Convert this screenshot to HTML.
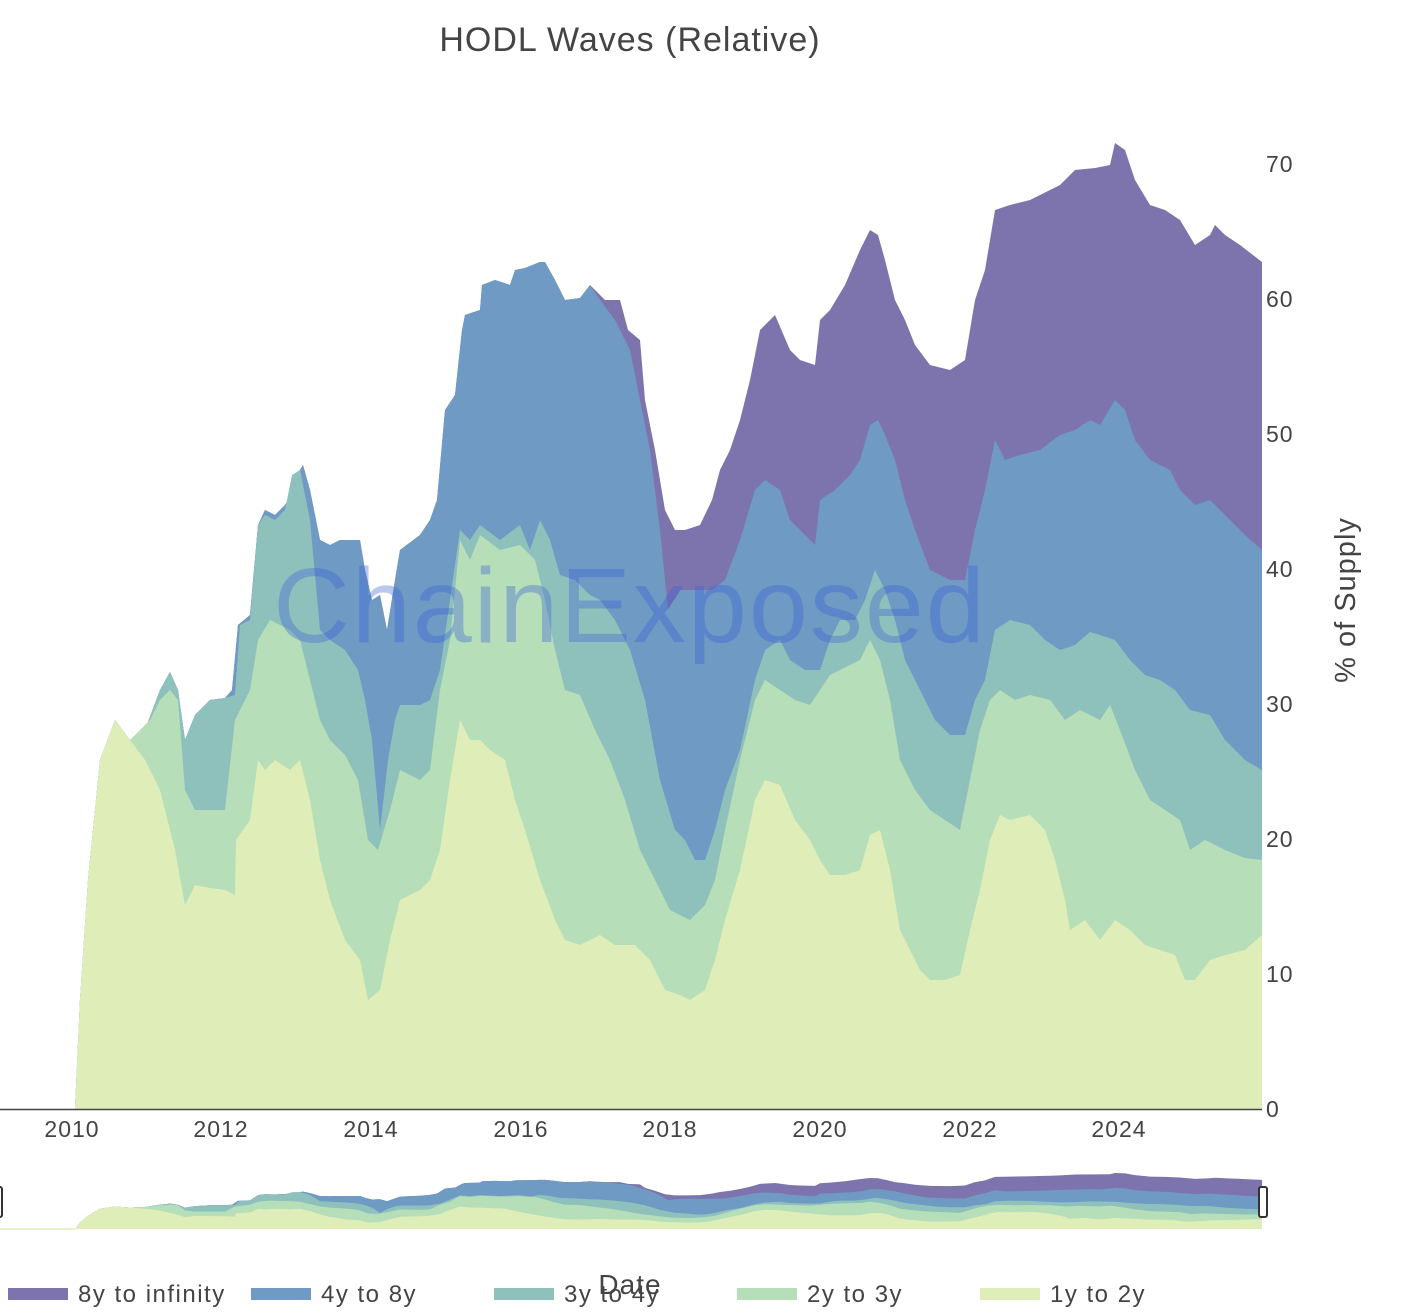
<!DOCTYPE html>
<html><head><meta charset="utf-8"><style>
body{margin:0;background:#fff;width:1402px;height:1310px;overflow:hidden}
svg text{font-family:"Liberation Sans",sans-serif;fill:#444}
</style></head><body>
<svg width="1402" height="1310" viewBox="0 0 1402 1310" xmlns="http://www.w3.org/2000/svg">
<defs>
<g id="areas">
<path fill="#7d74ae" d="M75,1109 L80,1000 88,880 100,760 115,720 130,740 145,730 160,690 170,672 178,690 185,740 195,715 210,700 225,698 232,690 238,625 250,615 258,525 265,510 275,515 285,505 292,495 300,470 303,465 310,490 320,540 330,545 340,540 360,540 365,570 372,600 380,595 387,630 395,580 400,550 420,535 430,520 437,500 445,410 455,395 462,330 465,315 480,310 482,285 495,280 510,285 515,270 525,268 540,262 545,262 555,280 565,300 580,298 590,285 605,300 620,300 628,330 640,340 645,400 655,450 665,510 675,530 685,530 700,525 712,500 720,470 730,450 740,420 750,380 760,330 775,315 790,350 800,360 815,365 820,320 830,310 845,285 860,250 870,230 878,235 885,260 895,300 905,320 915,345 930,365 950,370 965,360 975,300 985,270 995,210 1010,205 1030,200 1050,190 1060,185 1075,170 1095,168 1110,165 1115,143 1125,150 1135,180 1150,205 1165,210 1180,220 1195,245 1210,235 1215,225 1225,235 1240,245 1262,262 L1262,1109 Z"/>
<path fill="#6e9ac3" d="M75,1109 L80,1000 88,880 100,760 115,720 130,740 145,730 160,690 170,672 178,690 185,740 195,715 210,700 225,698 232,690 238,625 250,615 258,525 265,510 275,515 285,505 292,495 300,470 303,465 310,490 320,540 330,545 340,540 360,540 365,570 372,600 380,595 387,630 395,580 400,550 420,535 430,520 437,500 445,410 455,395 462,330 465,315 480,310 482,285 495,280 510,285 515,270 525,268 540,262 545,262 555,280 565,300 580,298 590,285 600,300 615,320 630,350 640,400 650,450 660,530 668,610 680,590 700,590 712,590 725,580 740,540 755,490 765,480 780,490 790,520 800,530 815,545 820,500 835,490 850,475 860,460 870,425 878,420 885,435 895,460 905,500 915,530 930,570 950,580 965,580 975,530 985,490 995,440 1005,460 1020,455 1040,450 1060,435 1075,430 1090,420 1100,425 1115,400 1125,410 1135,440 1150,460 1170,470 1180,490 1195,505 1210,500 1225,515 1245,535 1262,550 L1262,1109 Z"/>
<path fill="#8ec1bb" d="M75,1109 L80,1000 88,880 100,760 115,720 130,740 145,730 160,690 170,672 178,690 185,740 195,715 210,700 225,698 235,695 240,625 250,620 258,525 265,515 275,520 285,510 292,475 300,470 310,520 320,630 330,640 345,650 358,670 365,700 372,740 380,830 388,760 395,720 400,705 420,705 430,700 440,670 450,600 460,530 470,540 480,525 500,540 520,525 530,550 540,520 550,540 560,575 575,580 590,595 600,600 615,620 630,650 645,700 660,780 675,830 685,840 695,860 705,860 715,830 725,790 740,750 755,680 765,650 780,640 790,660 805,670 820,670 830,640 840,620 855,620 865,600 875,570 885,590 895,620 905,660 920,690 935,720 950,735 965,735 975,700 985,680 995,630 1010,620 1030,625 1045,640 1060,650 1075,645 1090,632 1100,635 1115,640 1130,660 1145,675 1160,680 1175,690 1190,710 1210,715 1225,740 1245,760 1262,770 L1262,1109 Z"/>
<path fill="#b6deb9" d="M75,1109 L80,1000 88,880 100,760 115,720 130,740 150,720 160,700 170,690 178,700 185,790 195,810 210,810 225,810 235,720 250,690 258,640 270,620 290,630 300,640 310,680 320,720 330,740 345,755 358,780 368,840 378,850 390,810 400,770 420,780 430,770 440,690 450,640 460,540 470,560 480,535 500,550 520,545 535,560 545,600 555,650 565,690 580,695 595,730 610,760 625,800 640,850 655,880 670,910 690,920 705,905 715,880 725,830 740,760 755,700 765,680 780,690 795,700 810,705 820,690 830,675 850,665 860,660 870,640 880,660 890,700 900,760 915,790 930,810 945,820 960,830 970,780 980,730 990,700 1000,690 1015,700 1030,695 1050,700 1065,720 1080,710 1100,720 1110,705 1120,730 1135,770 1150,800 1165,810 1180,820 1190,850 1205,840 1225,850 1245,858 1262,860 L1262,1109 Z"/>
<path fill="#dfeeb9" d="M75,1109 L80,1000 88,880 100,760 115,720 130,740 145,760 160,790 175,850 185,905 195,885 210,888 225,890 235,895 236,840 250,820 258,760 265,770 275,760 290,770 300,760 310,800 320,860 330,900 345,940 360,960 368,1000 380,990 390,940 400,900 420,890 430,880 440,850 450,780 460,720 470,740 480,740 490,750 505,760 515,800 525,830 540,880 555,920 565,940 580,945 600,935 615,945 635,945 650,960 665,990 680,995 690,1000 705,990 715,960 725,920 740,870 755,800 765,780 780,785 795,820 810,840 820,860 830,875 845,875 860,870 870,835 880,830 885,850 890,870 900,930 910,950 920,970 930,980 945,980 960,975 970,930 980,890 990,840 1000,815 1010,820 1030,815 1045,830 1055,860 1065,900 1070,930 1085,920 1100,940 1115,920 1130,930 1145,945 1160,950 1175,955 1185,980 1195,980 1210,960 1225,955 1245,950 1262,935 L1262,1109 Z"/>
</g>
</defs>
<text x="630" y="51" font-size="34" text-anchor="middle" letter-spacing="1">HODL Waves (Relative)</text>
<use href="#areas"/>
<text x="630" y="642" font-size="106" text-anchor="middle" letter-spacing="2" style="fill:#3a5fd8;fill-opacity:0.35">ChainExposed</text>
<line x1="0" y1="1109.5" x2="1262" y2="1109.5" stroke="#444" stroke-width="1.5"/>
<g font-size="23" letter-spacing="1">
<text x="1266" y="1117">0</text><text x="1266" y="982">10</text><text x="1266" y="847">20</text><text x="1266" y="712">30</text><text x="1266" y="577">40</text><text x="1266" y="442">50</text><text x="1266" y="307">60</text><text x="1266" y="172">70</text>
</g>
<g font-size="23" text-anchor="middle" letter-spacing="1">
<text x="72" y="1137">2010</text><text x="221" y="1137">2012</text><text x="371" y="1137">2014</text><text x="521" y="1137">2016</text><text x="670" y="1137">2018</text><text x="820" y="1137">2020</text><text x="970" y="1137">2022</text><text x="1119" y="1137">2024</text>
</g>
<text transform="translate(1355,600) rotate(-90)" font-size="29" text-anchor="middle" letter-spacing="1">% of Supply</text>
<line x1="0" y1="1229" x2="75" y2="1229" stroke="#dfeeb9" stroke-width="1.5"/>
<g transform="translate(0,1229) scale(1,0.058) translate(0,-1109)"><use href="#areas"/></g>
<rect x="-6" y="1187" width="8" height="30" rx="2" fill="#fff" stroke="#333" stroke-width="2"/>
<rect x="1259" y="1187" width="8" height="30" rx="2" fill="#fff" stroke="#333" stroke-width="2"/>
<text x="630" y="1294" font-size="28" text-anchor="middle" letter-spacing="1">Date</text>
<g font-size="24" letter-spacing="1.5">
<rect x="8" y="1288" width="60" height="12" fill="#7d74ae"/><text x="78" y="1302">8y to infinity</text>
<rect x="251" y="1288" width="60" height="12" fill="#6e9ac3"/><text x="321" y="1302">4y to 8y</text>
<rect x="494" y="1288" width="60" height="12" fill="#8ec1bb"/><text x="564" y="1302">3y to 4y</text>
<rect x="737" y="1288" width="60" height="12" fill="#b6deb9"/><text x="807" y="1302">2y to 3y</text>
<rect x="980" y="1288" width="60" height="12" fill="#dfeeb9"/><text x="1050" y="1302">1y to 2y</text>
</g>
</svg>
</body></html>
